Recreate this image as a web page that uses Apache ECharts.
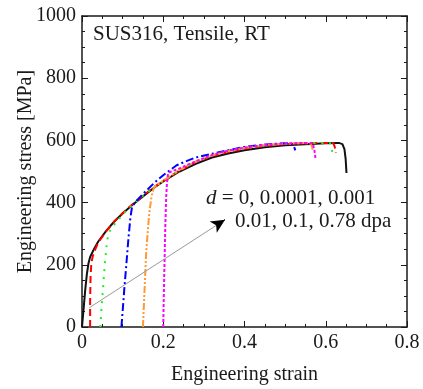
<!DOCTYPE html>
<html>
<head>
<meta charset="utf-8">
<script src="https://cdn.jsdelivr.net/npm/echarts@6/dist/echarts.min.js"></script>
<style>
html,body{margin:0;padding:0;background:#fff;}
#chart{width:423px;height:389px;}
</style>
</head>
<body>
<div id="chart"></div>
<script>
// ---- data ----
var xTicks = [0, 0.2, 0.4, 0.6, 0.8];
var yTicks = [0, 200, 400, 600, 800, 1000];

var seriesNames = ['d = 0', 'd = 0.0001', 'd = 0.001', 'd = 0.01', 'd = 0.1', 'd = 0.78 dpa'];

var strain0 = [0, 0.004, 0.008, 0.012, 0.016, 0.02, 0.03, 0.04, 0.06, 0.08, 0.1, 0.12, 0.15, 0.18, 0.2, 0.24, 0.28, 0.32, 0.36, 0.4, 0.45, 0.5, 0.55, 0.6, 0.632, 0.641, 0.646, 0.649, 0.651];
var stress0 = [0, 60, 120, 170, 205, 225, 252, 275, 310, 340, 365, 388, 420, 450, 468, 500, 525, 545, 558, 568, 578, 584, 588, 591, 592, 588, 572, 540, 495];

var strain1 = [0.02, 0.02, 0.021, 0.023, 0.026, 0.03, 0.04, 0.06, 0.08, 0.1, 0.12, 0.15, 0.18, 0.2, 0.24, 0.28, 0.32, 0.36, 0.4, 0.45, 0.5, 0.55, 0.6, 0.618, 0.622, 0.625];
var stress1 = [0, 80, 160, 205, 225, 242, 272, 308, 340, 366, 390, 422, 452, 470, 503, 530, 550, 563, 573, 582, 588, 591, 592, 592, 580, 560];

var strain2 = [0.045, 0.048, 0.052, 0.056, 0.06, 0.064, 0.07, 0.08, 0.1, 0.12, 0.15, 0.18, 0.2, 0.24, 0.28, 0.32, 0.36, 0.4, 0.45, 0.5, 0.55, 0.6, 0.61, 0.614, 0.616];
var stress2 = [0, 60, 130, 200, 255, 295, 312, 330, 362, 388, 422, 452, 470, 504, 531, 551, 565, 575, 584, 589, 591, 592, 592, 580, 563];

var strain3 = [0.097, 0.1, 0.104, 0.109, 0.114, 0.119, 0.123, 0.13, 0.15, 0.18, 0.2, 0.233, 0.26, 0.28, 0.34, 0.4, 0.46, 0.5, 0.515, 0.522, 0.525];
var stress3 = [0, 50, 120, 199, 280, 350, 385, 400, 428, 466, 488, 520, 535, 545, 563, 579, 588, 591, 590, 580, 568];

var strain4 = [0.15, 0.152, 0.155, 0.158, 0.162, 0.166, 0.171, 0.176, 0.18, 0.2, 0.24, 0.28, 0.32, 0.36, 0.4, 0.45, 0.5, 0.55, 0.562, 0.566, 0.568];
var stress4 = [0, 60, 150, 240, 310, 370, 418, 445, 452, 470, 505, 532, 552, 566, 576, 585, 590, 592, 590, 580, 568];

var strain5 = [0.2, 0.201, 0.203, 0.205, 0.207, 0.209, 0.212, 0.22, 0.24, 0.28, 0.32, 0.36, 0.4, 0.45, 0.5, 0.55, 0.568, 0.572, 0.574, 0.575];
var stress5 = [0, 80, 200, 320, 410, 460, 495, 500, 510, 533, 553, 567, 577, 586, 590, 592, 590, 570, 550, 538];

// annotation arrow (data coordinates)
var arrowStart = [0.018, 62];
var arrowEnd = [0.352, 345];
var arrowHeadFrom = [0.331, 327.5];

// ---- build ----
function zip(xs, ys) { return xs.map(function (x, i) { return [x, ys[i]]; }); }

var FONT = '"Liberation Serif", "Times New Roman", serif';
var INK = '#1a1a1a';

var styles = [
  { color: '#111111', type: 'solid' },
  { color: '#ff0000', type: [7, 4] },
  { color: '#22ee22', type: [2, 6] },
  { color: '#0000ff', type: [8, 3, 2, 3] },
  { color: '#ff9933', type: [7, 2, 2, 2, 2, 2] },
  { color: '#ff00ff', type: [3, 2] }
];
var strains = [strain0, strain1, strain2, strain3, strain4, strain5];
var stresses = [stress0, stress1, stress2, stress3, stress4, stress5];

var series = strains.map(function (s, i) {
  return {
    name: seriesNames[i],
    type: 'line',
    data: zip(s, stresses[i]),
    showSymbol: false,
    smooth: false,
    z: i === 0 ? 2 : 3,
    lineStyle: { color: styles[i].color, width: 2, type: styles[i].type },
    itemStyle: { color: styles[i].color }
  };
});

// arrow: gray shaft + black head
series.push({
  type: 'line', data: [], silent: true,
  markLine: {
    silent: true, animation: false,
    symbol: ['none', 'none'],
    label: { show: false },
    lineStyle: { color: '#9a9a9a', width: 1, type: 'solid' },
    data: [[{ coord: arrowStart }, { coord: arrowEnd }]]
  }
});
series.push({
  type: 'line', data: [], silent: true,
  markLine: {
    silent: true, animation: false,
    symbol: ['none', 'arrow'],
    symbolSize: [10, 14],
    label: { show: false },
    lineStyle: { color: '#000', width: 1, type: 'solid' },
    data: [[{ coord: arrowHeadFrom }, { coord: arrowEnd }]]
  }
});

function axisCommon(showLabel) {
  return {
    axisLine: { show: true, onZero: false, lineStyle: { color: INK, width: 1.5 } },
    axisTick: { show: true, inside: true, length: 6, lineStyle: { color: INK, width: 1 } },
    minorTick: { show: true, splitNumber: 4, length: 3, lineStyle: { color: INK, width: 1 } },
    splitLine: { show: false },
    axisLabel: { show: showLabel, color: INK, fontFamily: FONT, fontSize: 20 }
  };
}

var xMin = xTicks[0], xMax = xTicks[xTicks.length - 1], xInt = xTicks[1] - xTicks[0];
var yMin = yTicks[0], yMax = yTicks[yTicks.length - 1], yInt = yTicks[1] - yTicks[0];

var xBottom = Object.assign(axisCommon(true), {
  type: 'value', position: 'bottom', min: xMin, max: xMax, interval: xInt,
  name: 'Engineering strain', nameLocation: 'middle', nameGap: 38, nameMoveOverlap: false,
  nameTextStyle: { color: INK, fontFamily: FONT, fontSize: 20 }
});
xBottom.axisLabel.margin = 6;
xBottom.axisLabel.formatter = function (v) { return v === 0 ? '0' : v.toFixed(1); };

var xTop = Object.assign(axisCommon(false), {
  type: 'value', position: 'top', min: xMin, max: xMax, interval: xInt
});

var yLeft = Object.assign(axisCommon(true), {
  type: 'value', position: 'left', min: yMin, max: yMax, interval: yInt,
  name: 'Engineering stress [MPa]', nameLocation: 'middle', nameGap: 46, nameMoveOverlap: false,
  nameTextStyle: { color: INK, fontFamily: FONT, fontSize: 20 }
});
yLeft.axisLabel.margin = 6;
yLeft.axisLabel.formatter = function (v) { return String(v); };

var yRight = Object.assign(axisCommon(false), {
  type: 'value', position: 'right', min: yMin, max: yMax, interval: yInt
});

var option = {
  animation: false,
  backgroundColor: '#ffffff',
  grid: { left: 82, right: 16, top: 16, bottom: 62, containLabel: false, outerBoundsMode: 'none' },
  xAxis: [xBottom, xTop],
  yAxis: [yLeft, yRight],
  series: series,
  graphic: [
    {
      type: 'text', x: 93, y: 34, silent: true,
      style: { text: 'SUS316, Tensile, RT', font: '21px ' + FONT, fill: INK, align: 'left', verticalAlign: 'middle' }
    },
    {
      type: 'text', x: 206, y: 198, silent: true,
      style: {
        text: '{i|d} = 0, 0.0001, 0.001', font: '21px ' + FONT, fill: INK, align: 'left', verticalAlign: 'middle',
        rich: { i: { fontStyle: 'italic', fontFamily: FONT, fontSize: 21, fill: INK } }
      }
    },
    {
      type: 'text', x: 235, y: 221, silent: true,
      style: { text: '0.01, 0.1, 0.78 dpa', font: '21px ' + FONT, fill: INK, align: 'left', verticalAlign: 'middle' }
    }
  ]
};

var chart = echarts.init(document.getElementById('chart'), null, { renderer: 'canvas' });
chart.setOption(option);
</script>
</body>
</html>
